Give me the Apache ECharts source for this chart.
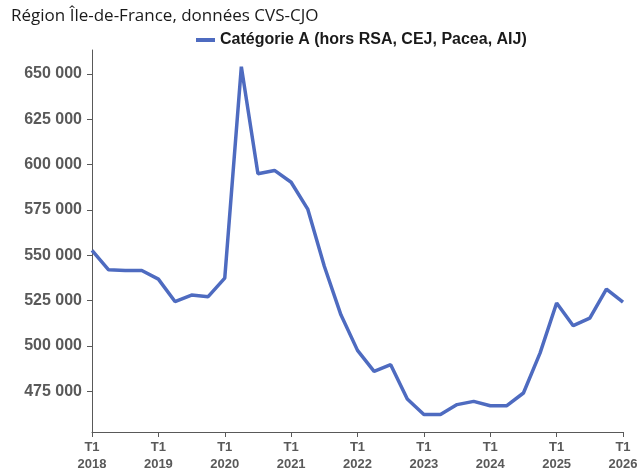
<!DOCTYPE html>
<html>
<head>
<meta charset="utf-8">
<script src="https://cdn.jsdelivr.net/npm/echarts@6/dist/echarts.min.js"></script>
<style>
	html, body { margin: 0; padding: 0; background: #fff; }
	#main { width: 639px; height: 471px; }
</style>
</head>
<body>
<div id="main"></div>
<script>
	// trimestres T1 2018 -> T1 2026
	var quarters = [
		'T1 2018', 'T2 2018', 'T3 2018', 'T4 2018',
		'T1 2019', 'T2 2019', 'T3 2019', 'T4 2019',
		'T1 2020', 'T2 2020', 'T3 2020', 'T4 2020',
		'T1 2021', 'T2 2021', 'T3 2021', 'T4 2021',
		'T1 2022', 'T2 2022', 'T3 2022', 'T4 2022',
		'T1 2023', 'T2 2023', 'T3 2023', 'T4 2023',
		'T1 2024', 'T2 2024', 'T3 2024', 'T4 2024',
		'T1 2025', 'T2 2025', 'T3 2025', 'T4 2025',
		'T1 2026'
	];
	// Catégorie A (hors RSA, CEJ, Pacea, AIJ)
	var catA = [
		552700, 542000, 541700, 541600,
		536900, 524500, 528100, 527200,
		537400, 654000, 595000, 596800,
		590300, 575500, 544000, 517200,
		497600, 486000, 489700, 470800,
		462200, 462300, 467700, 469500,
		467100, 467100, 474100, 496100,
		523700, 511200, 515400, 531400,
		524200
	];
	var yTicks = [475000, 500000, 525000, 550000, 575000, 600000, 625000, 650000];

	var Chart = echarts.init(document.getElementById('main'));
	var option = {
		backgroundColor: '#fff',
		animation: false,
		title: {
			text: 'Région Île-de-France, données CVS-CJO',
			left: 6,
			top: 3,
			textStyle: {
				fontFamily: 'Open Sans',
				fontSize: 17,
				fontWeight: 'normal',
				color: '#1a1a1a'
			}
		},
		legend: {
			left: 191,
			top: 27,
			icon: 'rect',
			itemWidth: 19,
			itemHeight: 4,
			itemGap: 6,
			textStyle: {
				fontFamily: 'Liberation Sans',
				fontSize: 16,
				fontWeight: 'bold',
				color: '#1a1a1a'
			},
			data: ['Catégorie A (hors RSA, CEJ, Pacea, AIJ)']
		},
		grid: {
			left: 92,
			right: 16,
			top: 50,
			bottom: 39,
			containLabel: false,
			outerBoundsMode: 'none'
		},
		xAxis: {
			type: 'category',
			boundaryGap: false,
			data: quarters,
			axisLine: { lineStyle: { color: '#595959', width: 1 } },
			axisTick: { interval: 3, length: 5, lineStyle: { color: '#595959' } },
			axisLabel: {
				interval: 3,
				margin: 7,
				fontFamily: 'Liberation Sans',
				fontSize: 13,
				fontWeight: 'bold',
				color: '#595959',
				lineHeight: 17,
				formatter: function(v) {
					return v.replace(' ', '\n');
				}
			},
			splitLine: { show: false }
		},
		yAxis: {
			type: 'value',
			min: 452600,
			max: 663200,
			axisLine: { show: true, lineStyle: { color: '#595959', width: 1 } },
			axisTick: { show: true, length: 5, customValues: yTicks, lineStyle: { color: '#595959' } },
			axisLabel: {
				customValues: yTicks,
				margin: 10,
				fontFamily: 'Liberation Sans',
				fontSize: 16,
				fontWeight: 'bold',
				color: '#595959',
				formatter: function(v) {
					return String(v).replace(/\B(?=(\d{3})+(?!\d))/g, ' ');
				}
			},
			splitLine: { show: false }
		},
		series: [{
			name: 'Catégorie A (hors RSA, CEJ, Pacea, AIJ)',
			type: 'line',
			data: catA,
			symbol: 'none',
			lineStyle: { color: '#4e6bc0', width: 3.5 },
			itemStyle: { color: '#4e6bc0' }
		}]
	};
	Chart.setOption(option);
</script>
</body>
</html>
